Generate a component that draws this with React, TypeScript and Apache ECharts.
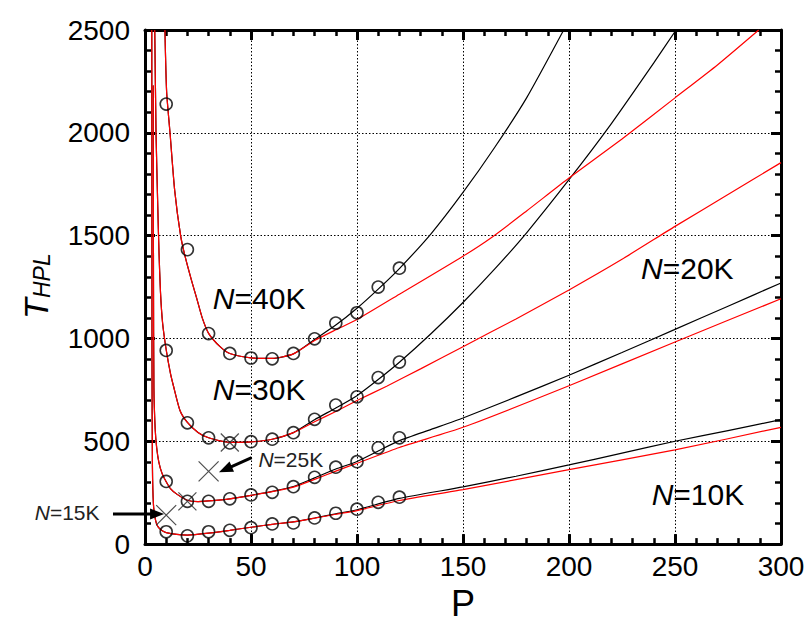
import React, { useEffect, useRef } from 'react';
import * as echarts from 'echarts';

const W = 809;
const H = 626;
const FONT = '"Liberation Sans", Arial, Helvetica, sans-serif';

// ---- axes ----
const xTicks = [0, 50, 100, 150, 200, 250, 300];
const yTicks = [0, 500, 1000, 1500, 2000, 2500];

// ---- model curves (P, T_HPL) ----
const black10K = [[3.2, 2500], [3.3, 900], [3.5, 380], [4, 190], [5, 115], [6, 86], [8, 66], [10, 56], [15, 47], [20, 44], [30, 53], [40, 67], [50, 82], [60, 96], [70, 108], [80, 127], [90, 147], [100, 167], [120, 222], [150, 278], [175, 330], [200, 385], [225, 442], [250, 500], [275, 552], [300, 605]];
const red10K = [[3.2, 2500], [3.3, 900], [3.5, 380], [4, 190], [5, 115], [6, 86], [8, 66], [10, 56], [15, 47], [20, 44], [30, 53], [40, 67], [50, 82], [60, 96], [70, 108], [80, 126], [90, 145], [100, 163], [120, 212], [150, 265], [200, 362], [250, 458], [300, 568]];

const black20K = [[3.9, 2230], [4.0, 1300], [4.2, 760], [4.8, 560], [5.5, 470], [6.5, 400], [8, 345], [10, 303], [12, 270], [15, 243], [20, 213], [25, 207], [30, 210], [40, 220], [50, 237], [60, 256], [70, 280], [80, 322], [90, 365], [100, 402], [110, 453], [120, 503], [135, 558], [150, 613], [175, 716], [200, 821], [225, 932], [250, 1044], [275, 1157], [300, 1270]];
const red20K = [[3.9, 2230], [4.0, 1300], [4.2, 760], [4.8, 560], [5.5, 470], [6.5, 400], [8, 345], [10, 303], [12, 270], [15, 243], [20, 213], [25, 207], [30, 210], [40, 220], [50, 237], [60, 255], [70, 277], [80, 315], [90, 355], [100, 393], [120, 470], [150, 568], [200, 770], [250, 983], [300, 1193]];

const black30K = [[4.6, 2500], [5.2, 2000], [6.0, 1650], [6.6, 1420], [7.3, 1226], [8.3, 1075], [10, 945], [12, 830], [13.4, 770], [16.5, 650], [20, 592], [25, 543], [30, 517], [40, 495], [50, 497], [60, 510], [70, 542], [80, 605], [90, 662], [100, 722], [110, 800], [120, 884], [135, 1024], [150, 1175], [165, 1338], [180, 1514], [200, 1772], [220, 2045], [240, 2340], [250.5, 2500]];
const red30K = [[4.6, 2500], [5.2, 2000], [6.0, 1650], [6.6, 1420], [7.3, 1226], [8.3, 1075], [10, 945], [12, 830], [13.4, 770], [16.5, 650], [20, 592], [25, 543], [30, 517], [40, 495], [50, 497], [60, 510], [70, 542], [80, 595], [90, 645], [100, 698], [114, 768], [130, 852], [150, 960], [175, 1095], [200, 1236], [225, 1385], [250, 1545], [275, 1700], [300, 1855]];

const black40K = [[9.4, 2500], [10.2, 2200], [11.8, 2000], [14, 1720], [16.8, 1500], [19, 1395], [22, 1280], [24.4, 1195], [27, 1100], [30, 1025], [35.4, 960], [40, 927], [50, 906], [60, 903], [70, 925], [80, 995], [90, 1065], [100, 1147], [110, 1240], [120, 1340], [135, 1510], [150, 1710], [165, 1930], [180, 2170], [197.5, 2500]];
const red40K = [[9.4, 2500], [10.2, 2200], [11.8, 2000], [14, 1720], [16.8, 1500], [19, 1395], [22, 1280], [24.4, 1195], [27, 1100], [30, 1025], [35.4, 960], [40, 927], [50, 906], [60, 903], [70, 925], [80, 990], [90, 1042], [100, 1092], [120, 1215], [150, 1400], [164, 1495], [180, 1620], [200, 1780], [225, 1970], [250, 2170], [270, 2330], [289.5, 2500]];

// ---- measured points ----
const meas10K = [[10, 60], [20, 40], [30, 60], [40, 67], [50, 80], [60, 98], [70, 103], [80, 127], [90, 150], [100, 170], [110, 203], [120, 228]];
const meas20K = [[10, 305], [20, 208], [30, 208], [40, 220], [50, 239], [60, 252], [70, 279], [80, 325], [90, 374], [100, 401], [110, 468], [120, 517]];
const meas30K = [[10, 942], [20, 590], [30, 517], [40, 492], [50, 498], [60, 510], [70, 542], [80, 607], [90, 676], [100, 716], [110, 810], [120, 885]];
const meas40K = [[10, 2140], [20, 1432], [30, 1024], [40, 927], [50, 905], [60, 901], [70, 927], [80, 998], [90, 1075], [100, 1125], [110, 1250], [120, 1342]];

// ---- optimum points (crosses) ----
const crossBig = [[10, 141], [30, 354]];
const crossSmall = [[20, 208], [40, 494]];

// ---- annotations (text, anchor in data units) ----
const curveLabels = [
  { n: '40K', p: 32, t: 1193, size: 30 },
  { n: '30K', p: 32, t: 750, size: 30 },
  { n: '20K', p: 234, t: 1340, size: 30 },
  { n: '10K', p: 239, t: 240, size: 30 },
  { n: '25K', p: 53.5, t: 410, size: 21 },
  { n: '15K', p: -52, t: 156, size: 21 },
];
const arrows = [
  { from: [-15.1, 146], to: [9.0, 146] },
  { from: [50.3, 420], to: [34.9, 349] },
];

const CROSS = 'path://M0,0L20,20M20,0L0,20';

function axisCommon(show: boolean) {
  return {
    axisLine: { show: true, onZero: false, lineStyle: { color: '#000', width: 3 } },
    axisTick: { show: true, inside: true, length: 10, lineStyle: { color: '#000', width: 3 } },
    minorTick: { show: true, splitNumber: 5, length: 6, lineStyle: { color: '#000', width: 2.5 } },
    splitLine: { show, lineStyle: { color: '#000', width: 1, type: [1.5, 2] } },
  };
}

function buildOption() {
  const lineSeries = (data: number[][], color: string, name: string) => ({
    type: 'line',
    name,
    data,
    showSymbol: false,
    symbol: 'none',
    smooth: 0.2,
    clip: true,
    lineStyle: { color, width: 1.2 },
    silent: true,
  });
  const circles = (data: number[][], name: string) => ({
    type: 'scatter',
    name,
    data,
    symbol: 'circle',
    symbolSize: 12,
    itemStyle: { color: 'rgba(0,0,0,0)', borderColor: '#000', borderWidth: 1.6 },
    z: 5,
  });
  const plain = (v: number) => String(v);
  return {
    animation: false,
    backgroundColor: '#fff',
    grid: { left: 145, top: 30, right: 28, bottom: 66, containLabel: false },
    xAxis: [
      {
        type: 'value',
        position: 'bottom',
        min: xTicks[0],
        max: xTicks[xTicks.length - 1],
        interval: xTicks[1] - xTicks[0],
        ...axisCommon(true),
        axisLabel: { color: '#000', fontSize: 28, fontFamily: FONT, margin: 8, formatter: plain },
        name: 'P',
        nameLocation: 'middle',
        nameGap: 30,
        nameTextStyle: { color: '#000', fontSize: 36, fontFamily: FONT },
      },
      {
        type: 'value',
        position: 'top',
        min: xTicks[0],
        max: xTicks[xTicks.length - 1],
        interval: xTicks[1] - xTicks[0],
        ...axisCommon(false),
        axisLabel: { show: false },
      },
    ],
    yAxis: [
      {
        type: 'value',
        position: 'left',
        min: yTicks[0],
        max: yTicks[yTicks.length - 1],
        interval: yTicks[1] - yTicks[0],
        ...axisCommon(true),
        axisLabel: { color: '#000', fontSize: 28, fontFamily: FONT, margin: 15, formatter: plain },
      },
      {
        type: 'value',
        position: 'right',
        min: yTicks[0],
        max: yTicks[yTicks.length - 1],
        interval: yTicks[1] - yTicks[0],
        ...axisCommon(false),
        axisLabel: { show: false },
      },
    ],
    series: [
      lineSeries(black10K, '#000', 'N=10K model (black)'),
      lineSeries(black20K, '#000', 'N=20K model (black)'),
      lineSeries(black30K, '#000', 'N=30K model (black)'),
      lineSeries(black40K, '#000', 'N=40K model (black)'),
      lineSeries(red10K, '#ff0000', 'N=10K model (red)'),
      lineSeries(red20K, '#ff0000', 'N=20K model (red)'),
      lineSeries(red30K, '#ff0000', 'N=30K model (red)'),
      lineSeries(red40K, '#ff0000', 'N=40K model (red)'),
      circles(meas10K, 'N=10K measured'),
      circles(meas20K, 'N=20K measured'),
      circles(meas30K, 'N=30K measured'),
      circles(meas40K, 'N=40K measured'),
      {
        type: 'scatter',
        name: 'optimum (large)',
        data: crossBig,
        symbol: CROSS,
        symbolSize: 20,
        itemStyle: { color: 'rgba(0,0,0,0)', borderColor: '#222', borderWidth: 1.2 },
        z: 6,
      },
      {
        type: 'scatter',
        name: 'optimum (small)',
        data: crossSmall,
        symbol: CROSS,
        symbolSize: 18,
        itemStyle: { color: 'rgba(0,0,0,0)', borderColor: '#222', borderWidth: 1.2 },
        z: 6,
      },
    ],
  };
}

function buildGraphics(chart: any) {
  const px = (p: number, t: number) => chart.convertToPixel({ xAxisIndex: 0, yAxisIndex: 0 }, [p, t]) as number[];
  const els: any[] = [];
  curveLabels.forEach((l) => {
    const [x, y] = px(l.p, l.t);
    els.push({
      type: 'text',
      x,
      y,
      z: 100,
      style: {
        text: '{i|N}=' + l.n,
        fontSize: l.size,
        fontFamily: FONT,
        fill: l.size < 25 ? '#222' : '#000',
        align: 'left',
        verticalAlign: 'middle',
        rich: { i: { fontStyle: 'italic', fontSize: l.size, fontFamily: FONT, fill: l.size < 25 ? '#222' : '#000' } },
      },
    });
  });
  arrows.forEach((a) => {
    const [x1, y1] = px(a.from[0], a.from[1]);
    const [x2, y2] = px(a.to[0], a.to[1]);
    const len = Math.hypot(x2 - x1, y2 - y1);
    const ux = (x2 - x1) / len;
    const uy = (y2 - y1) / len;
    const headLen = 14;
    const half = 5.5;
    const bx = x2 - ux * headLen;
    const by = y2 - uy * headLen;
    els.push({ type: 'line', z: 100, shape: { x1, y1, x2: bx + ux * 2, y2: by + uy * 2 }, style: { stroke: '#000', lineWidth: 3 } });
    els.push({
      type: 'polygon',
      z: 100,
      shape: { points: [[x2, y2], [bx - uy * half, by + ux * half], [bx + uy * half, by - ux * half]] },
      style: { fill: '#000' },
    });
  });
  // y axis title T_HPL, rotated
  els.push({
    type: 'group',
    x: 36,
    y: 319,
    rotation: Math.PI / 2,
    z: 100,
    children: [
      { type: 'text', x: 0, y: 0, style: { text: 'T', fontSize: 34, fontStyle: 'italic', fontFamily: FONT, fill: '#000', align: 'left', verticalAlign: 'middle' } },
      { type: 'text', x: 21, y: 6, style: { text: 'HPL', fontSize: 23, fontStyle: 'italic', fontFamily: FONT, fill: '#000', align: 'left', verticalAlign: 'middle' } },
    ],
  });
  return els;
}

export default function App() {
  const ref = useRef<HTMLDivElement>(null);
  useEffect(() => {
    const chart = echarts.init(ref.current as HTMLDivElement, null, { renderer: 'svg' });
    chart.setOption(buildOption() as any);
    chart.setOption({ graphic: buildGraphics(chart) } as any);
    return () => chart.dispose();
  }, []);
  return <div ref={ref} style={{ position: 'fixed', left: 0, top: 0, width: W, height: H, background: '#fff' }} />;
}
